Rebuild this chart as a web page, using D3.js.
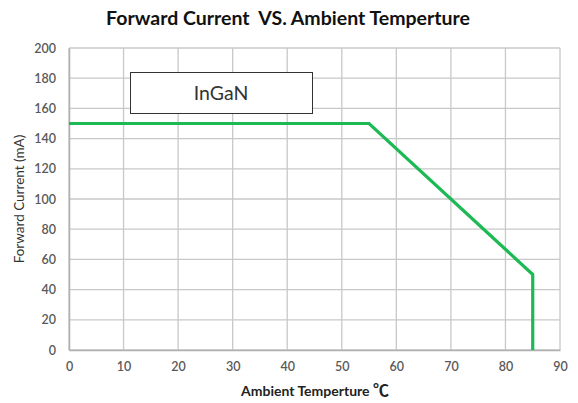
<!DOCTYPE html>
<html><head><meta charset="utf-8">
<script src="https://cdn.jsdelivr.net/npm/d3@7"></script>
<style>body{margin:0;background:#fff}svg{display:block}</style>
</head><body>
<script>
const temps = [0, 55, 85, 85];
const currents = [150, 150, 50, 0];
const xTicks = [0,10,20,30,40,50,60,70,80,90];
const yTicks = [0,20,40,60,80,100,120,140,160,180,200];
const seriesName = "InGaN";
const title = "Forward Current\u00a0 VS. Ambient Temperture";
const xLabel = "Ambient Temperture ";
const yLabel = "Forward Current (mA)";

const W = 578, H = 403;
const svg = d3.select("body").append("svg").attr("width", W).attr("height", H);
const x = d3.scaleLinear().domain([0,90]).range([69,560]);
const y = d3.scaleLinear().domain([0,200]).range([350,48]);
const font = "Lato, 'Open Sans', sans-serif";

// grid
svg.append("g").selectAll("line").data(yTicks).join("line")
  .attr("x1", x(0)).attr("x2", x(90)).attr("y1", d=>y(d)).attr("y2", d=>y(d))
  .attr("stroke", "#c8c8c8").attr("stroke-width", 1.3);
svg.append("g").selectAll("line").data(xTicks).join("line")
  .attr("x1", d=>x(d)).attr("x2", d=>x(d)).attr("y1", y(0)).attr("y2", y(200))
  .attr("stroke", "#c8c8c8").attr("stroke-width", 1.3);

// axes
const xa = svg.append("g").attr("transform", `translate(0,${y(0)})`)
  .call(d3.axisBottom(x).tickValues(xTicks).tickSize(0).tickPadding(12));
const ya = svg.append("g").attr("transform", `translate(${x(0)},0)`)
  .call(d3.axisLeft(y).tickValues(yTicks).tickSize(0).tickPadding(13));
[xa, ya].forEach(a => {
  a.select(".domain").attr("stroke", "#b0b0b0").attr("stroke-width", 1.5);
  a.selectAll("text").attr("font-family", font).attr("font-size", 12.5)
    .attr("font-weight", 600).attr("fill", "#595959");
});

// line
const pts = temps.map((t,i)=>[t, currents[i]]);
svg.append("path").datum(pts)
  .attr("d", d3.line().x(d=>x(d[0])).y(d=>y(d[1])))
  .attr("fill", "none").attr("stroke", "#1db954").attr("stroke-width", 3.2)
  .attr("stroke-linejoin", "miter");

// legend box
svg.append("rect").attr("x", 130.5).attr("y", 72.5).attr("width", 182).attr("height", 41)
  .attr("fill", "#fff").attr("stroke", "#333").attr("stroke-width", 1);
svg.append("text").attr("x", 221).attr("y", 100).attr("text-anchor", "middle")
  .attr("font-family", font).attr("font-size", 19.5).attr("fill", "#333").text(seriesName);

// title
svg.append("text").attr("x", 288).attr("y", 25).attr("text-anchor", "middle")
  .attr("font-family", font).attr("font-size", 19.5).attr("font-weight", 700).attr("fill", "#111")
  .text(title);

// x label
const xl = svg.append("text").attr("x", 315).attr("y", 396).attr("text-anchor", "middle")
  .attr("font-family", font).attr("font-size", 14).attr("font-weight", 700).attr("fill", "#222");
xl.append("tspan").text(xLabel);
xl.append("tspan").attr("font-size", 16).attr("font-family", "'Noto Sans CJK SC', sans-serif").attr("font-weight", 700).text("\u2103");

// y label
svg.append("text").attr("transform", `translate(24,${y(100)}) rotate(-90)`).attr("text-anchor", "middle")
  .attr("font-family", font).attr("font-size", 13.5).attr("fill", "#333").text(yLabel);
</script>
</body></html>
